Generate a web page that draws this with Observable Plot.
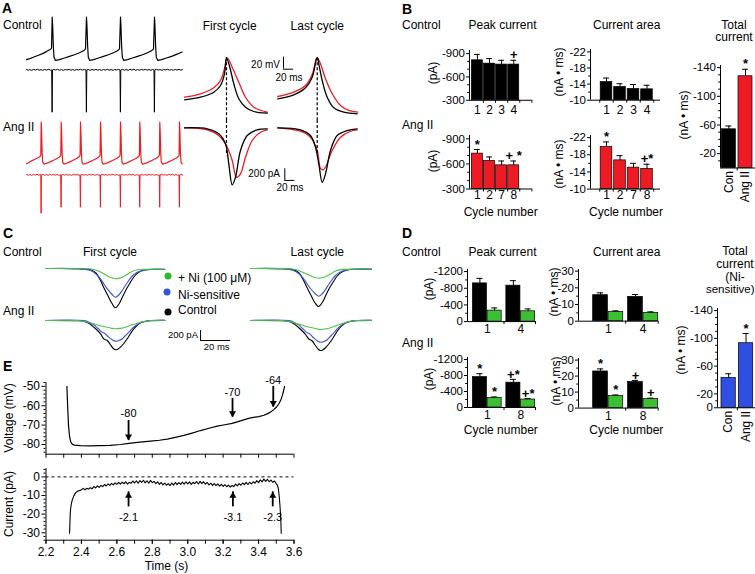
<!DOCTYPE html>
<html><head><meta charset="utf-8">
<script src="https://cdn.jsdelivr.net/npm/d3@7"></script>
<script src="https://cdn.jsdelivr.net/npm/@observablehq/plot@0.6"></script>
<style>
body{margin:0;background:#fff;}
#fig{position:relative;width:755px;height:574px;overflow:hidden;background:#fff;font-family:"Liberation Sans",Arial,Helvetica,sans-serif;color:#000;}
.lbl{position:absolute;white-space:nowrap;line-height:1;}
.dot{position:absolute;width:7px;height:7px;border-radius:50%;transform:translate(-50%,-50%);}
#fig svg{overflow:visible;}
</style></head><body><div id="fig"></div>
<script>
const FONT = '"Liberation Sans", Arial, Helvetica, sans-serif';
const RED = "#ed1c24", GREEN = "#3dbf33", BLUE = "#2f4fe3";
const TGREEN = "#4fc146", TBLUE = "#3654d8";

// ---------------- Panel A: spontaneous APs and AP-clamp currents [ms, mV] / [ms, pA]
const aCtlV = [[0,-81],[40,-78],[80,-74],[120,-70],[160,-66],[200,-61],[235,-56],[250,-53],[257,25],[262,0],[268,-45],[275,-75],[290,-83],[330,-81],[380,-77],[430,-73],[480,-69],[530,-64],[570,-59],[590,-54],[600,25],[605,0],[611,-45],[618,-75],[633,-83],[670,-81],[720,-77],[770,-73],[820,-69],[870,-64],[910,-59],[930,-54],[940,25],[945,0],[951,-45],[958,-75],[973,-83],[1010,-81],[1060,-77],[1110,-73],[1160,-69],[1210,-64],[1250,-59],[1270,-54],[1280,25],[1285,0],[1291,-45],[1298,-75],[1313,-83],[1350,-81],[1400,-77],[1450,-73],[1500,-68],[1557,-62]];
const aCtlI = [[0,8],[18,-12],[33,6],[52,-15],[70,10],[91,-6],[108,14],[127,-10],[146,5],[163,-14],[182,9],[200,-7],[221,12],[240,-9],[252,-4],[256,-1000],[260,-3],[274,11],[292,-8],[309,13],[330,-12],[351,6],[368,-15],[389,9],[405,-5],[426,14],[444,-11],[463,7],[481,-13],[502,10],[520,-6],[539,12],[557,-9],[577,8],[595,-6],[599,-1000],[603,-3],[619,10],[637,-13],[655,7],[676,-9],[694,13],[713,-12],[730,6],[751,-14],[770,10],[788,-7],[809,13],[826,-10],[846,5],[866,-15],[884,9],[903,-6],[920,12],[935,-6],[939,-1000],[943,-3],[959,11],[978,-10],[996,6],[1017,-13],[1035,9],[1054,-7],[1072,14],[1093,-11],[1110,5],[1130,-12],[1149,10],[1168,-6],[1188,12],[1206,-9],[1226,7],[1244,-13],[1262,9],[1275,-6],[1279,-1000],[1283,-3],[1299,12],[1317,-9],[1336,7],[1355,-14],[1373,10],[1392,-6],[1411,13],[1430,-10],[1449,6],[1468,-12],[1488,9],[1506,-7],[1525,11],[1543,-9],[1560,4]];
const aAngV = [[0,-79],[40,-73],[90,-67],[130,-62],[143,-58],[147,25],[151,0],[156,-50],[162,-75],[175,-80],[220,-76],[270,-70],[310,-65],[338,-60],[343,-57],[347,25],[351,0],[356,-50],[362,-75],[375,-80],[420,-76],[465,-70],[505,-65],[531,-60],[536,-57],[540,25],[544,0],[549,-50],[555,-75],[568,-80],[615,-76],[665,-70],[705,-65],[731,-60],[736,-57],[740,25],[744,0],[749,-50],[755,-75],[768,-80],[815,-76],[865,-70],[905,-65],[931,-60],[936,-57],[940,25],[944,0],[949,-50],[955,-75],[968,-80],[1010,-76],[1058,-70],[1098,-65],[1124,-60],[1129,-57],[1133,25],[1137,0],[1142,-50],[1148,-75],[1161,-80],[1208,-76],[1258,-70],[1298,-65],[1324,-60],[1329,-57],[1333,25],[1337,0],[1342,-50],[1348,-75],[1361,-80],[1405,-76],[1455,-70],[1495,-65],[1521,-60],[1526,-57],[1530,25],[1534,0],[1539,-50],[1545,-75],[1557,-79]];
const aAngI = [[0,9],[17,-11],[35,7],[52,-14],[70,12],[88,-6],[105,13],[123,-9],[140,6],[143,-6],[146,-906],[149,-3],[164,10],[181,-12],[199,6],[217,-13],[234,11],[252,-7],[270,12],[288,-10],[305,7],[322,-12],[338,-5],[342,-3],[346,-764],[349,-3],[363,10],[381,-9],[398,13],[416,-12],[433,6],[451,-14],[469,10],[487,-6],[504,12],[520,-9],[535,-5],[539,-764],[542,-3],[557,11],[575,-10],[593,6],[611,-13],[628,12],[646,-7],[664,10],[682,-12],[700,7],[718,-9],[735,-5],[739,-764],[742,-3],[757,12],[775,-8],[793,6],[811,-13],[828,10],[846,-6],[864,13],[882,-11],[900,7],[918,-10],[935,-5],[939,-764],[942,-3],[958,10],[976,-12],[994,7],[1012,-9],[1030,13],[1048,-7],[1066,11],[1084,-13],[1102,6],[1118,-9],[1128,-5],[1132,-764],[1135,-3],[1151,11],[1169,-8],[1187,6],[1205,-13],[1223,12],[1241,-7],[1259,10],[1277,-11],[1295,7],[1312,-10],[1328,-5],[1332,-764],[1335,-3],[1351,12],[1369,-9],[1387,6],[1405,-12],[1423,11],[1441,-6],[1459,13],[1477,-10],[1495,7],[1512,-11],[1525,-5],[1529,-764],[1532,-3],[1546,10],[1560,-6]];
// First / last cycle overlays (t relative to AP peak, ms)
const apFirstCtl = [[-84,-45],[-52,-40.7],[-25.4,-32.3],[-12,-21.2],[-4,-1.7],[0,25],[6.6,9.3],[14.6,-18.3],[24.6,-43.3],[38,-57.3],[54.6,-64.5],[81.4,-67.3]];
const apFirstAng = [[-84,-40.7],[-52,-35],[-25.4,-25],[-12,-12.8],[-4,6.7],[1.4,25],[11.4,9.3],[24.6,-15.7],[38,-40.7],[54.6,-57.3],[81.4,-65.7]];
const apLastCtl = [[-78.8,-43.3],[-46.8,-36.7],[-23.4,-25],[-10,-7.3],[-1.4,23.3],[0.5,25],[3.2,15],[10,-12.8],[20,-40.7],[33.2,-58.3],[53.2,-65.7],[80,-68.3]];
const apLastAng = [[-78.8,-39.5],[-46.8,-32.3],[-23.4,-21.2],[-10,-2.8],[0,25],[6.6,15],[16.6,-10],[30,-35],[46.6,-54.5],[63.2,-62.8],[81.2,-65.7]];
const iFirstCtl = [[-84,0],[-38.6,-17],[-15.4,-103],[-2,-276],[4.6,-621],[11.4,-983],[18,-852],[28,-391],[41.4,-133],[61.4,-34],[81.4,-17]];
const iFirstAng = [[-84,0],[-38.6,-34],[-15.4,-133],[1.4,-334],[11.4,-564],[20,-852],[28,-793],[38,-507],[51.4,-219],[68,-76],[81.4,-34]];
const iLastCtl = [[-78.8,0],[-33.4,-34],[-13.4,-133],[-3.4,-334],[3.2,-621],[10,-938],[16.6,-793],[26.6,-391],[40,-133],[60,-47],[80,-17]];
const iLastAng = [[-78.8,0],[-33.4,-59],[-13.4,-162],[0,-391],[6.6,-700],[12,-724],[16.6,-679],[30,-391],[46.6,-162],[66.6,-59],[80,-34]];

// ---------------- Panel B
const bCycleCtl = ["1","2","3","4"];
const bCycleAng = ["1","2","7","8"];
const bPeakCtl = [-814,-771,-759,-759], bPeakCtlSem = [76,65,55,55], bPeakCtlMark = ["","","","+"];
const bPeakAng = [-723,-635,-583,-583], bPeakAngSem = [50,48,52,52], bPeakAngMark = ["*","","","+ *"];
const bAreaCtl = [-14.5,-13.3,-12.8,-12.7], bAreaCtlSem = [1.0,0.8,1.1,1.0], bAreaCtlMark = ["","","",""];
const bAreaAng = [-19.8,-16.7,-15.0,-14.7], bAreaAngSem = [1.2,1.1,1.0,1.1], bAreaAngMark = ["*","","","+*"];
const totalGroups = ["Con","Ang II"];
const bTotal = [-54,-128], bTotalSem = [4.6,9.7], bTotalMark = ["","*"];

// ---------------- Panel C (t relative to trough, ms; pA)
const cCtlFirstBlack = [[-46.7,0],[-25,-5],[-16.7,-26],[-13,-90],[-10,-240],[-7.5,-400],[-5.1,-540],[-2.5,-690],[0,-786],[2.5,-700],[5.1,-540],[7.5,-400],[10,-274],[12.5,-160],[15.5,-74],[19,-35],[23.3,-20],[32.9,-20]];
const cCtlFirstBlue = [[-46.7,0],[-25,-5],[-16.7,-40],[-13,-110],[-10,-206],[-7.5,-320],[-5.5,-406],[-2.5,-510],[0,-574],[2.5,-520],[4.5,-440],[7,-320],[8.9,-240],[11.5,-140],[14.5,-74],[19,-35],[23.3,-20],[32.9,-20]];
const cCtlFirstGreen = [[-46.7,0],[-20,-5],[-14.5,-20],[-11,-55],[-7.8,-106],[-4,-170],[0,-206],[3,-190],[5.5,-160],[8.5,-105],[11.1,-60],[14,-30],[16.7,-20],[24,-12],[32.9,-10]];
const cCtlLastBlack = [[-45.3,0],[-25,-5],[-16.7,-26],[-13,-90],[-10,-235],[-7.5,-390],[-5.1,-530],[-2.5,-680],[0,-760],[2.5,-680],[5.1,-520],[7.5,-380],[10,-260],[12.5,-150],[15.5,-70],[19,-30],[23.3,-15],[35.3,-15]];
const cCtlLastBlue = [[-45.3,0],[-25,-5],[-16.7,-40],[-13,-105],[-10,-200],[-7.5,-310],[-5.5,-395],[-2.5,-495],[0,-555],[2.5,-505],[4.5,-425],[7,-310],[8.9,-230],[11.5,-135],[14.5,-70],[19,-30],[23.3,-15],[35.3,-15]];
const cCtlLastGreen = [[-45.3,0],[-20,-5],[-14.5,-25],[-11,-70],[-7.8,-110],[-4,-165],[0,-195],[3,-180],[5.5,-150],[8.5,-100],[11.1,-55],[14,-28],[16.7,-18],[24,-12],[35.3,-10]];
const cAngFirstBlack = [[-46.7,0],[-25,-5],[-21.1,-14],[-17.5,-60],[-14.5,-134],[-12,-200],[-10,-266],[-7.8,-366],[-5.5,-400],[-3.5,-480],[-1.5,-560],[0,-586],[1.5,-575],[3.3,-534],[5.5,-460],[7.8,-366],[10,-260],[12.2,-166],[14.5,-95],[16.7,-46],[20,-15],[23.3,0],[32.9,5]];
const cAngFirstBlue = [[-46.7,0],[-21.1,-3],[-17.5,-35],[-14.5,-86],[-11.5,-165],[-8.9,-234],[-7.3,-254],[-4.5,-334],[-2,-390],[0,-414],[2,-405],[4.5,-366],[6.5,-305],[8.9,-234],[11.5,-150],[14.5,-80],[17.5,-38],[21.1,-14],[32.9,0]];
const cAngFirstGreen = [[-46.7,0],[-25.5,0],[-20,-25],[-14.5,-66],[-10,-105],[-5.5,-134],[-2,-158],[0,-166],[3,-158],[6.7,-134],[10.5,-92],[14.5,-54],[18.5,-22],[23.3,0],[32.9,6]];
const cAngLastBlack = [[-46.7,0],[-25,-5],[-21,-18],[-17.5,-70],[-14.5,-145],[-12,-215],[-10,-280],[-7.8,-370],[-5.5,-410],[-3.5,-495],[-1.5,-575],[0,-600],[1.5,-588],[3.3,-545],[5.5,-470],[7.8,-375],[10,-268],[12.2,-170],[14.5,-98],[16.7,-48],[20,-16],[23.3,0],[34,5]];
const cAngLastBlue = [[-46.7,0],[-21,-3],[-17.5,-38],[-14.5,-92],[-11.5,-175],[-8.9,-246],[-7.3,-266],[-4.5,-350],[-2,-410],[0,-434],[2,-424],[4.5,-384],[6.5,-320],[8.9,-245],[11.5,-158],[14.5,-84],[17.5,-40],[21,-14],[34,0]];
const cAngLastGreen = [[-46.7,0],[-25.5,0],[-20,-28],[-14.5,-72],[-10,-114],[-5.5,-145],[-2,-171],[0,-180],[3,-171],[6.7,-145],[10.5,-100],[14.5,-58],[18.5,-24],[23.3,0],[34,6]];
const cLegend = ["+ Ni (100 μM)","Ni-sensitive","Control"];

// ---------------- Panel D
const dCycleCtl = ["1","4"], dCycleAng = ["1","8"];
const dPeakCtlBlack = [-917,-862], dPeakCtlBlackSem = [120,120], dPeakCtlBlackMark = ["",""];
const dPeakCtlGreen = [-263,-247], dPeakCtlGreenSem = [65,57], dPeakCtlGreenMark = ["",""];
const dAreaCtlBlack = [-15.6,-14.6], dAreaCtlBlackSem = [1.4,1.4], dAreaCtlBlackMark = ["",""];
const dAreaCtlGreen = [-5.6,-5.0], dAreaCtlGreenSem = [0.6,0.6], dAreaCtlGreenMark = ["",""];
const dPeakAngBlack = [-760,-621], dPeakAngBlackSem = [85,82], dPeakAngBlackMark = ["*","+*"];
const dPeakAngGreen = [-239,-199], dPeakAngGreenSem = [24,25], dPeakAngGreenMark = ["*","+*"];
const dAreaAngBlack = [-22.9,-16.3], dAreaAngBlackSem = [1.6,1.0], dAreaAngBlackMark = ["*","+"];
const dAreaAngGreen = [-7.5,-5.6], dAreaAngGreenSem = [0.7,0.6], dAreaAngGreenMark = ["*","+"];
const dTotal = [-43,-93], dTotalSem = [6,14], dTotalMark = ["","*"];

// ---------------- Panel E [s, mV] and [s, pA]
const eVoltage = [[2.318,-50],[2.322,-60],[2.327,-70],[2.333,-76],[2.340,-78.8],[2.348,-79.8],[2.36,-80.3],[2.395,-80.6],[2.45,-80.7],[2.50,-80.6],[2.56,-80.5],[2.62,-80.0],[2.668,-79.4],[2.73,-78.8],[2.79,-78.3],[2.84,-77.8],[2.884,-77.2],[2.93,-76.3],[2.978,-75.3],[3.025,-74.1],[3.072,-72.8],[3.12,-71.6],[3.167,-70.5],[3.21,-69.8],[3.251,-69.1],[3.298,-67.8],[3.33,-66.9],[3.355,-66.3],[3.38,-65.9],[3.402,-65.6],[3.43,-64.9],[3.449,-64.2],[3.47,-63.1],[3.486,-62.0],[3.50,-60.8],[3.514,-59.1],[3.525,-57.2],[3.534,-54.8],[3.541,-52.4],[3.547,-50]];
const eCurrent = [[2.333,-30.3],[2.336,-22],[2.338,-17.8],[2.343,-14.5],[2.348,-12.5],[2.357,-10.2],[2.367,-8.6],[2.38,-7.6],[2.39,-7.4],
[2.40,-6.9],[2.41,-6.2],[2.42,-7.0],[2.43,-6.1],[2.44,-6.6],[2.45,-5.8],[2.46,-6.4],[2.47,-5.2],[2.48,-5.9],[2.49,-4.8],
[2.50,-5.6],[2.51,-4.6],[2.52,-5.2],[2.53,-4.1],[2.54,-4.9],[2.55,-3.8],[2.56,-4.6],[2.57,-3.5],[2.58,-4.3],[2.59,-3.2],
[2.60,-4.0],[2.61,-2.9],[2.62,-3.9],[2.63,-2.8],[2.64,-3.7],[2.65,-2.6],[2.66,-3.9],[2.67,-2.9],[2.68,-3.5],[2.69,-2.2],
[2.70,-3.3],[2.71,-2.1],[2.72,-3.4],[2.73,-2.0],[2.74,-3.0],[2.75,-1.8],[2.76,-3.2],[2.77,-2.1],[2.78,-3.4],[2.79,-1.9],
[2.80,-3.1],[2.81,-2.4],[2.82,-3.6],[2.83,-2.7],[2.84,-4.0],[2.85,-3.0],[2.86,-4.3],[2.87,-3.4],[2.88,-4.5],[2.89,-3.6],
[2.90,-4.7],[2.91,-3.3],[2.92,-4.4],[2.93,-3.0],[2.94,-4.2],[2.95,-3.1],[2.96,-4.0],[2.97,-2.8],[2.98,-3.9],[2.99,-2.6],
[3.00,-3.8],[3.01,-2.7],[3.02,-4.0],[3.03,-2.9],[3.04,-3.7],[3.05,-2.5],[3.06,-3.8],[3.07,-2.4],[3.08,-3.6],[3.09,-2.6],
[3.10,-3.9],[3.11,-3.0],[3.12,-4.3],[3.13,-3.4],[3.14,-4.6],[3.15,-3.6],[3.16,-4.7],[3.17,-3.8],[3.18,-5.0],[3.19,-4.0],
[3.20,-5.1],[3.21,-4.2],[3.22,-5.3],[3.23,-4.4],[3.24,-5.5],[3.25,-4.6],[3.26,-5.2],[3.27,-3.9],[3.28,-4.8],[3.29,-3.6],
[3.30,-4.5],[3.31,-3.3],[3.32,-4.2],[3.33,-3.0],[3.34,-4.1],[3.35,-2.9],[3.36,-3.8],[3.37,-2.6],[3.38,-3.4],[3.39,-2.0],
[3.40,-3.1],[3.41,-1.6],[3.42,-2.7],[3.43,-1.2],[3.44,-2.4],[3.45,-1.3],[3.46,-2.6],[3.47,-1.7],[3.48,-2.9],[3.49,-2.2],
[3.50,-3.6],[3.506,-4.4],[3.512,-6.5],[3.517,-10.7],[3.522,-17],[3.526,-24],[3.528,-30.3]];
const eVArrows = [{t:2.666,tail:-67.6,head:-77.9,labelY:-64,label:"-80"},{t:3.253,tail:-56.2,head:-65.9,labelY:-53.1,label:"-70"},{t:3.483,tail:-50,head:-60.7,labelY:-46.9,label:"-64"}];
const eIArrows = [{t:2.666,tail:-16.1,head:-8.0,labelY:-22,label:"-2.1"},{t:3.255,tail:-16.1,head:-8.0,labelY:-22,label:"-3.1"},{t:3.48,tail:-16.1,head:-8.0,labelY:-22,label:"-2.3"}];

// ================= helpers
const fig = document.getElementById("fig");
function place(el, left, top) {
  el.style.position = "absolute"; el.style.left = left + "px"; el.style.top = top + "px"; el.style.maxWidth = "none";
  fig.appendChild(el);
}
function L(text, x, y, o = {}) {
  const d = document.createElement("div");
  d.className = "lbl"; d.textContent = text;
  d.style.left = x + "px"; d.style.top = y + "px";
  d.style.fontSize = (o.size || 12) + "px"; d.style.fontWeight = o.weight || "normal";
  const a = o.anchor || "start";
  const tx = a === "start" ? "0" : a === "middle" ? "-50%" : "-100%";
  d.style.transform = o.rot ? "translate(-50%,-50%) rotate(-90deg)" : `translate(${tx},-50%)`;
  fig.appendChild(d);
}
function V(text, x, y, size) { L(text, x, y, {rot: true, size: size || 12}); }
function dotAt(x, y, color) {
  const d = document.createElement("div"); d.className = "dot";
  d.style.left = x + "px"; d.style.top = y + "px"; d.style.background = color; fig.appendChild(d);
}
const st = (fs) => ({fontFamily: FONT, fontSize: fs + "px", background: "transparent", overflow: "visible"});
const xy = {x: d => d[0], y: d => d[1]};

function tracePlot(p) {
  const svg = Plot.plot({
    width: p.x1 - p.x0, height: p.y1 - p.y0, margin: 0,
    x: {domain: p.xd, axis: null}, y: {domain: p.yd, axis: null},
    style: st(10), marks: p.marks
  });
  place(svg, p.x0, p.y0);
}

function simpleRows(vals, sems, marks, fill, hw) {
  return vals.map((v, i) => ({xc: i + 1, x1: i + 1 - hw, x2: i + 1 + hw, v, top: v - sems[i], mark: marks[i], fill: Array.isArray(fill) ? fill[i] : fill}));
}
function groupRows(bv, bs, bm, gv, gs, gm) {
  const r = [];
  bv.forEach((v, i) => r.push({xc: i + 1 - 0.22, x1: i + 1 - 0.43, x2: i + 1 - 0.01, v, top: v - bs[i], mark: bm[i], fill: "#000"}));
  gv.forEach((v, i) => r.push({xc: i + 1 + 0.22, x1: i + 1 + 0.01, x2: i + 1 + 0.43, v, top: v - gs[i], mark: gm[i], fill: GREEN}));
  return r;
}

function barPanel(p) {
  const ml = 40, mt = 18, mr = 4, mb = 42;
  const base = p.yd[0];
  const marks = [
    Plot.rect(p.rows, {x1: "x1", x2: "x2", y1: () => base, y2: "v", fill: "fill", stroke: "#000", strokeWidth: 0.7}),
    Plot.ruleX(p.rows, {x: "xc", y1: "v", y2: "top", stroke: "#000", strokeWidth: 1}),
    Plot.ruleY(p.rows, {y: "top", x1: d => d.xc - p.cap, x2: d => d.xc + p.cap, stroke: "#000", strokeWidth: 1}),
    Plot.text(p.rows, {x: "xc", y: "top", text: "mark", dy: -5, fontSize: 13, fontWeight: "bold", fill: "#000"}),
    Plot.axisY({ticks: p.yTicks, tickSize: 3, tickPadding: 1.5, tickFormat: d => String(d), label: null}),
    Plot.axisY({ticks: p.yMinor, tickSize: 1.8, tickFormat: () => "", label: null}),
    Plot.ruleX([p.xd[0]], {y1: p.yd[0], y2: p.yd[1], strokeWidth: 1}),
    Plot.ruleY([base], {strokeWidth: 1}),
    Plot.axisX({ticks: p.bTicks, tickSize: 3, tickFormat: () => "", label: null})
  ];
  if (p.xLab) marks.push(Plot.axisX({ticks: p.xLab.ticks, tickSize: 0, tickPadding: p.xLab.pad, tickFormat: p.xLab.format, fontSize: 12, tickRotate: p.xLab.rotate || 0, label: null}));
  const svg = Plot.plot({
    width: (p.x1 - p.x0) + ml + mr, height: (p.y1 - p.y0) + mt + mb,
    marginLeft: ml, marginTop: mt, marginRight: mr, marginBottom: mb,
    x: {type: "linear", domain: p.xd, axis: null, label: null},
    y: {domain: p.yd, axis: null, label: null},
    color: {type: "identity"},
    style: st(11.5), marks
  });
  place(svg, p.x0 - ml, p.y0 - mt);
}

// ================= Panel A
tracePlot({x0: 26, x1: 182, y0: 14, y1: 62, xd: [0, 1560], yd: [-88.25, 31.75],
  marks: [Plot.line(aCtlV, {...xy, stroke: "#000", strokeWidth: 1.2})]});
tracePlot({x0: 26, x1: 182, y0: 64, y1: 114, xd: [0, 1560], yd: [-1054, 125],
  marks: [Plot.line(aCtlI, {...xy, stroke: "#000", strokeWidth: 1})]});
tracePlot({x0: 26, x1: 182, y0: 118, y1: 167, xd: [0, 1560], yd: [-88.25, 34.25],
  marks: [Plot.line(aAngV, {...xy, stroke: RED, strokeWidth: 1.2})]});
tracePlot({x0: 26, x1: 182, y0: 168, y1: 216, xd: [0, 1560], yd: [-983, 148.6],
  marks: [Plot.line(aAngI, {...xy, stroke: RED, strokeWidth: 1})]});

const vd = [-79.5, 30.5], idm = [-1115, 126];
tracePlot({x0: 184, x1: 305, y0: 54, y1: 120, xd: [-84, 158], yd: vd, marks: [
  Plot.line(apFirstAng, {...xy, stroke: RED, strokeWidth: 1.3, curve: "catmull-rom"}),
  Plot.line(apFirstCtl, {...xy, stroke: "#000", strokeWidth: 1.3, curve: "catmull-rom"}),
  Plot.ruleX([0], {y1: 25, y2: -79.5, strokeDasharray: "3,2", strokeWidth: 1.2}),
  Plot.ruleX([114], {y1: 26, y2: 6, strokeWidth: 1}),
  Plot.ruleY([6], {x1: 114, x2: 134, strokeWidth: 1})
]});
tracePlot({x0: 184, x1: 305, y0: 120, y1: 192, xd: [-84, 158], yd: idm, marks: [
  Plot.line(iFirstAng, {...xy, stroke: RED, strokeWidth: 1.3, curve: "catmull-rom"}),
  Plot.line(iFirstCtl, {...xy, stroke: "#000", strokeWidth: 1.3, curve: "catmull-rom"}),
  Plot.ruleX([0], {y1: 126, y2: -480, strokeDasharray: "3,2", strokeWidth: 1.2}),
  Plot.ruleX([116.6], {y1: -707, y2: -907, strokeWidth: 1}),
  Plot.ruleY([-907], {x1: 116.6, x2: 136.6, strokeWidth: 1})
]});
tracePlot({x0: 277, x1: 358, y0: 54, y1: 120, xd: [-79.4, 82.6], yd: vd, marks: [
  Plot.line(apLastAng, {...xy, stroke: RED, strokeWidth: 1.3, curve: "catmull-rom"}),
  Plot.line(apLastCtl, {...xy, stroke: "#000", strokeWidth: 1.3, curve: "catmull-rom"}),
  Plot.ruleX([0], {y1: 25, y2: -79.5, strokeDasharray: "3,2", strokeWidth: 1.2})
]});
tracePlot({x0: 277, x1: 358, y0: 120, y1: 192, xd: [-79.4, 82.6], yd: idm, marks: [
  Plot.line(iLastAng, {...xy, stroke: RED, strokeWidth: 1.3, curve: "catmull-rom"}),
  Plot.line(iLastCtl, {...xy, stroke: "#000", strokeWidth: 1.3, curve: "catmull-rom"}),
  Plot.ruleX([0], {y1: 126, y2: -480, strokeDasharray: "3,2", strokeWidth: 1.2})
]});

// ================= Panel B
const fmt = arr => i => arr[Math.round(i) - 1] || "";
barPanel({x0: 469.3, x1: 531.7, y0: 50.2, y1: 100, xd: [0.35, 5.5], yd: [-300, -940],
  yTicks: [-900, -600, -300], yMinor: [-800, -700, -500, -400], bTicks: [1.5, 2.5, 3.5, 4.5, 5.5], cap: 0.24,
  rows: simpleRows(bPeakCtl, bPeakCtlSem, bPeakCtlMark, "#000", 0.455),
  xLab: {ticks: [1, 2, 3, 4], format: fmt(bCycleCtl), pad: 5}});
barPanel({x0: 469.3, x1: 531.7, y0: 135.2, y1: 188.7, xd: [0.35, 5.5], yd: [-300, -940],
  yTicks: [-900, -600, -300], yMinor: [-800, -700, -500, -400], bTicks: [1.5, 2.5, 3.5, 4.5, 5.5], cap: 0.24,
  rows: simpleRows(bPeakAng, bPeakAngSem, bPeakAngMark, RED, 0.455),
  xLab: {ticks: [1, 2, 3, 4], format: fmt(bCycleAng), pad: 1.5}});
barPanel({x0: 590, x1: 660, y0: 49.3, y1: 100, xd: [-0.185, 5.0], yd: [-10, -22.6],
  yTicks: [-22, -18, -14, -10], yMinor: [-20, -16, -12], bTicks: [0.5, 1.5, 2.5, 3.5, 4.5], cap: 0.22,
  rows: simpleRows(bAreaCtl, bAreaCtlSem, bAreaCtlMark, "#000", 0.43),
  xLab: {ticks: [1, 2, 3, 4], format: fmt(bCycleCtl), pad: 5}});
barPanel({x0: 590, x1: 660, y0: 135.4, y1: 189, xd: [-0.185, 5.0], yd: [-10, -22.5],
  yTicks: [-22, -18, -14, -10], yMinor: [-20, -16, -12], bTicks: [0.5, 1.5, 2.5, 3.5, 4.5], cap: 0.22,
  rows: simpleRows(bAreaAng, bAreaAngSem, bAreaAngMark, RED, 0.43),
  xLab: {ticks: [1, 2, 3, 4], format: fmt(bCycleAng), pad: 1.5}});
barPanel({x0: 720, x1: 755, y0: 64.5, y1: 167, xd: [0.5, 2.6], yd: [0, -143],
  yTicks: [-140, -100, -60, -20], yMinor: [-130, -120, -110, -90, -80, -70, -50, -40, -30, -10],
  bTicks: [1.5], cap: 0.18,
  rows: simpleRows(bTotal, bTotalSem, bTotalMark, ["#000", RED], 0.42),
  xLab: {ticks: [1, 2], format: fmt(totalGroups), pad: 3, rotate: -90}});

// ================= Panel C
const cd1 = [-880, 120], cd2 = [-680, 120];
const cMarks = (k, b, g) => [
  Plot.line(k, {...xy, stroke: "#000", strokeWidth: 1.1, curve: "catmull-rom"}),
  Plot.line(b, {...xy, stroke: TBLUE, strokeWidth: 1.1, curve: "catmull-rom"}),
  Plot.line(g, {...xy, stroke: TGREEN, strokeWidth: 1.1, curve: "catmull-rom"})
];
tracePlot({x0: 45, x1: 164.3, y0: 262, y1: 312, xd: [-46.7, 32.9], yd: cd1, marks: cMarks(cCtlFirstBlack, cCtlFirstBlue, cCtlFirstGreen)});
tracePlot({x0: 250, x1: 371, y0: 262, y1: 312, xd: [-45.3, 35.3], yd: cd1, marks: cMarks(cCtlLastBlack, cCtlLastBlue, cCtlLastGreen)});
tracePlot({x0: 45, x1: 235, y0: 314, y1: 354, xd: [-46.7, 80], yd: cd2, marks: [
  ...cMarks(cAngFirstBlack, cAngFirstBlue, cAngFirstGreen),
  Plot.ruleX([56.7], {y1: -200, y2: -400, strokeWidth: 1}),
  Plot.ruleY([-400], {x1: 56.7, x2: 76.7, strokeWidth: 1})
]});
tracePlot({x0: 250, x1: 371, y0: 314, y1: 354, xd: [-46.7, 34], yd: cd2, marks: cMarks(cAngLastBlack, cAngLastBlue, cAngLastGreen)});

// ================= Panel D
barPanel({x0: 467, x1: 535, y0: 268.9, y1: 321, xd: [0.41, 2.44], yd: [0, -1250],
  yTicks: [-1200, -800, -400, 0], yMinor: [-1000, -600, -200], bTicks: [1.5, 2.44], cap: 0.09,
  rows: groupRows(dPeakCtlBlack, dPeakCtlBlackSem, dPeakCtlBlackMark, dPeakCtlGreen, dPeakCtlGreenSem, dPeakCtlGreenMark),
  xLab: {ticks: [1, 2], format: fmt(dCycleCtl), pad: 3}});
barPanel({x0: 578.3, x1: 658, y0: 269.3, y1: 321, xd: [0.15, 2.43], yd: [0, -31],
  yTicks: [-30, -20, -10, 0], yMinor: [-25, -15, -5], bTicks: [1.5, 2.43], cap: 0.09,
  rows: groupRows(dAreaCtlBlack, dAreaCtlBlackSem, dAreaCtlBlackMark, dAreaCtlGreen, dAreaCtlGreenSem, dAreaCtlGreenMark),
  xLab: {ticks: [1, 2], format: fmt(dCycleCtl), pad: 3}});
barPanel({x0: 467, x1: 535, y0: 357.3, y1: 407.3, xd: [0.41, 2.44], yd: [0, -1250],
  yTicks: [-1200, -800, -400, 0], yMinor: [-1000, -600, -200], bTicks: [1.5, 2.44], cap: 0.09,
  rows: groupRows(dPeakAngBlack, dPeakAngBlackSem, dPeakAngBlackMark, dPeakAngGreen, dPeakAngGreenSem, dPeakAngGreenMark),
  xLab: {ticks: [1, 2], format: fmt(dCycleAng), pad: 3}});
barPanel({x0: 578.3, x1: 658, y0: 357.7, y1: 407.3, xd: [0.15, 2.43], yd: [0, -31],
  yTicks: [-30, -20, -10, 0], yMinor: [-25, -15, -5], bTicks: [1.5, 2.43], cap: 0.09,
  rows: groupRows(dAreaAngBlack, dAreaAngBlackSem, dAreaAngBlackMark, dAreaAngGreen, dAreaAngGreenSem, dAreaAngGreenMark),
  xLab: {ticks: [1, 2], format: fmt(dCycleAng), pad: 3}});
barPanel({x0: 716.7, x1: 755, y0: 308, y1: 407.3, xd: [0.36, 2.56], yd: [0, -143],
  yTicks: [0, -20, -60, -100, -140], yMinor: [-10, -30, -40, -50, -70, -80, -90, -110, -120, -130],
  bTicks: [1.5], cap: 0.17,
  rows: simpleRows(dTotal, dTotalSem, dTotalMark, BLUE, 0.41),
  xLab: {ticks: [1, 2], format: fmt(totalGroups), pad: 3, rotate: -90}});

// ================= Panel E
(function () {
  const ml = 45.5, mr = 12, W = 248;
  const tMinor = d3.range(22, 37).map(d => d / 10);
  const tMajor = d3.range(22, 37, 2).map(d => d / 10);
  const head = (arr, up) => Plot.dot(arr, {x: "t", y: "head", symbol: "triangle", r: 2.6, fill: "#000", stroke: "none", rotate: up ? 0 : 180, dy: up ? 4 : -4});
  const vSvg = Plot.plot({
    width: W + ml + mr, height: 71.7 + 20 + 6, marginLeft: ml, marginRight: mr, marginTop: 20, marginBottom: 6,
    x: {domain: [2.2, 3.6], axis: null}, y: {domain: [-85, -48], axis: null}, style: st(12),
    marks: [
      Plot.line(eVoltage, {...xy, stroke: "#000", strokeWidth: 1.2}),
      Plot.ruleX([2.2], {y1: -85, y2: -48}),
      Plot.ruleY([-85]),
      Plot.axisY({ticks: [-50, -60, -70, -80], tickSize: 4, tickPadding: 2, tickFormat: d => String(d), label: null}),
      Plot.axisY({ticks: [-84, -82, -78, -76, -74, -72, -68, -66, -64, -62, -58, -56, -54, -52, -48], tickSize: 2, tickFormat: () => "", label: null}),
      Plot.axisX({ticks: tMinor, tickSize: 4, tickFormat: () => "", label: null}),
      Plot.ruleX(eVArrows, {x: "t", y1: "tail", y2: "head", strokeWidth: 1.8}),
      head(eVArrows, false),
      Plot.text(eVArrows, {x: "t", y: "labelY", text: "label", fontSize: 11})
    ]
  });
  place(vSvg, 0, 382 - 20);
  const iSvg = Plot.plot({
    width: W + ml + mr, height: 71.7 + 6 + 34, marginLeft: ml, marginRight: mr, marginTop: 6, marginBottom: 34,
    x: {domain: [2.2, 3.6], axis: null}, y: {domain: [-34, 4.5], axis: null}, style: st(12),
    marks: [
      Plot.ruleY([0], {strokeDasharray: "3,3", strokeWidth: 1}),
      Plot.line(eCurrent, {...xy, stroke: "#000", strokeWidth: 1.1}),
      Plot.ruleX([2.2], {y1: -34, y2: 4.5}),
      Plot.ruleY([-34]),
      Plot.axisY({ticks: [0, -10, -20, -30], tickSize: 4, tickPadding: 2, tickFormat: d => String(d), label: null}),
      Plot.axisY({ticks: [4, 2, -2, -4, -6, -8, -12, -14, -16, -18, -22, -24, -26, -28, -32, -34], tickSize: 2, tickFormat: () => "", label: null}),
      Plot.axisX({ticks: tMinor, tickSize: 4, tickFormat: () => "", label: null}),
      Plot.axisX({ticks: tMajor, tickSize: 4, tickPadding: 3, tickFormat: d3.format(".1f"), label: null}),
      Plot.ruleX(eIArrows, {x: "t", y1: "tail", y2: "head", strokeWidth: 1.8}),
      head(eIArrows, true),
      Plot.text(eIArrows, {x: "t", y: "labelY", text: "label", fontSize: 11})
    ]
  });
  place(iSvg, 0, 468.3 - 6);
})();

// ================= Text labels
const B = {size: 14, weight: "bold"}, M = {anchor: "middle"};
L("A", 2, 7.5, B); L("B", 402, 8.5, B); L("C", 3, 232.5, B); L("D", 402, 232.5, B); L("E", 3, 366, B);
L("Control", 3, 25); L("Ang II", 3, 126.7);
L("First cycle", 229.7, 25.5, M); L("Last cycle", 317.3, 25.5, M);
L("20 mV", 280, 64.5, {anchor: "end", size: 10}); L("20 ms", 289, 78, {anchor: "middle", size: 10});
L("200 pA", 280, 174.3, {anchor: "end", size: 10}); L("20 ms", 290, 187.5, {anchor: "middle", size: 10});

L("Control", 402, 25); L("Peak current", 502.5, 25, M); L("Current area", 626.7, 25, M);
L("Total", 734, 24.5, M); L("current", 734, 37, M);
L("Ang II", 402, 125);
V("(pA)", 432.5, 72.5); V("(pA)", 432.5, 161);
V("(nA • ms)", 559, 72); V("(nA • ms)", 559, 164); V("(nA • ms)", 684, 115);
L("Cycle number", 500.7, 211.5, M); L("Cycle number", 626, 211.5, M);

L("Control", 3, 252); L("First cycle", 110, 252, M); L("Last cycle", 317.3, 252, M); L("Ang II", 3, 311);
dotAt(167.7, 275.5, "#2db82d"); L(cLegend[0], 178, 278);
dotAt(167, 292, "#3452dc"); L(cLegend[1], 178, 294.5);
dotAt(167.7, 311.7, "#000"); L(cLegend[2], 178, 309.5);
L("200 pA", 198, 335, {anchor: "end", size: 9.5}); L("20 ms", 216.7, 346.7, {anchor: "middle", size: 9.5});

L("Control", 402, 251.7); L("Peak current", 502.5, 251.7, M); L("Current area", 626.7, 251.7, M);
L("Total", 735, 251.2, M); L("current", 735, 264, M); L("(Ni-", 735, 277, M); L("sensitive)", 754.5, 290, {anchor: "end", size: 11.5});
L("Ang II", 402, 343);
V("(pA)", 429, 289); V("(pA)", 429, 379);
V("(nA • ms)", 554, 292); V("(nA • ms)", 556, 381); V("(nA • ms)", 681, 350);
L("Cycle number", 500.8, 430, M); L("Cycle number", 626.3, 430, M);

V("Voltage (mV)", 9, 417.5); V("Current (pA)", 9, 504);
L("Time (s)", 166.5, 566, M);
</script></body></html>
